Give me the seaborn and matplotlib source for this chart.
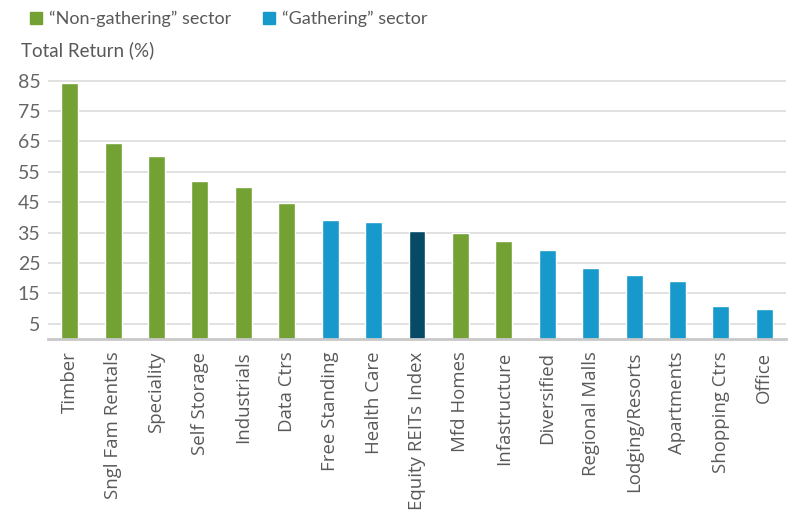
import seaborn as sns
import matplotlib.pyplot as plt
import pandas as pd
from matplotlib.lines import Line2D

# data
sectors = ["Timber", "Sngl Fam Rentals", "Speciality", "Self Storage", "Industrials",
           "Data Ctrs", "Free Standing", "Health Care", "Equity REITs Index", "Mfd Homes",
           "Infastructure", "Diversified", "Regional Malls", "Lodging/Resorts",
           "Apartments", "Shopping Ctrs", "Office"]
total_return = [84.2, 64.4, 60.3, 51.9, 50.1, 44.6, 39.0, 38.4, 35.4, 35.0,
                32.2, 29.2, 23.4, 21.2, 19.1, 11.0, 9.8]
group = ["non", "non", "non", "non", "non", "non", "gath", "gath", "index", "non",
         "non", "gath", "gath", "gath", "gath", "gath", "gath"]
yticks = [5, 15, 25, 35, 45, 55, 65, 75, 85]

colors = {"non": "#74A133", "gath": "#1799CC", "index": "#074A66"}

df = pd.DataFrame({"sector": sectors, "ret": total_return, "group": group})

sns.set_style("white")
plt.rcParams["font.family"] = ["Lato", "DejaVu Sans"]

fig = plt.figure(figsize=(8, 5.26), dpi=100)
ax = fig.add_axes([0.06, 0.3555, 0.9225, 0.5029])

sns.barplot(data=df, x="sector", y="ret", hue="group", palette=colors,
            dodge=False, width=0.39, legend=False, ax=ax, saturation=1)

ax.set_xlim(-0.5, len(sectors) - 0.5)
ax.set_ylim(0, 87)
ax.set_yticks(yticks)
ax.set_yticklabels([str(t) for t in yticks], fontsize=14, color="#666666")
ax.yaxis.grid(True, color="#DEDEDE", linewidth=1.3)
ax.set_axisbelow(True)
ax.tick_params(axis="y", length=0, pad=5.5)
ax.tick_params(axis="x", length=0, pad=9)
ax.set_xticks(range(len(sectors)))
ax.set_xticklabels(sectors, rotation=90, fontsize=13.4, color="#595959",
                   family=["Open Sans", "DejaVu Sans"], va="top", ha="center")
ax.set_xlabel("")
ax.set_ylabel("")
for s in ["top", "right", "left"]:
    ax.spines[s].set_visible(False)
ax.spines["bottom"].set_color("#C8C8C8")
ax.spines["bottom"].set_linewidth(2)

fig.text(0.026, 0.905, "Total Return (%)", fontsize=13.5, color="#595959",
         ha="left", va="center")

handles = [Line2D([], [], marker="s", linestyle="", markersize=9,
                  color=colors["non"], label="\u201cNon-gathering\u201d sector"),
           Line2D([], [], marker="s", linestyle="", markersize=9,
                  color=colors["gath"], label="\u201cGathering\u201d sector")]
fig.legend(handles=handles, loc="center left", bbox_to_anchor=(0.014, 0.964),
           ncol=2, frameon=False, fontsize=13, handletextpad=0.2,
           columnspacing=1.6, handlelength=1.0, labelcolor="#595959")

fig.savefig("out.png", dpi=100)
